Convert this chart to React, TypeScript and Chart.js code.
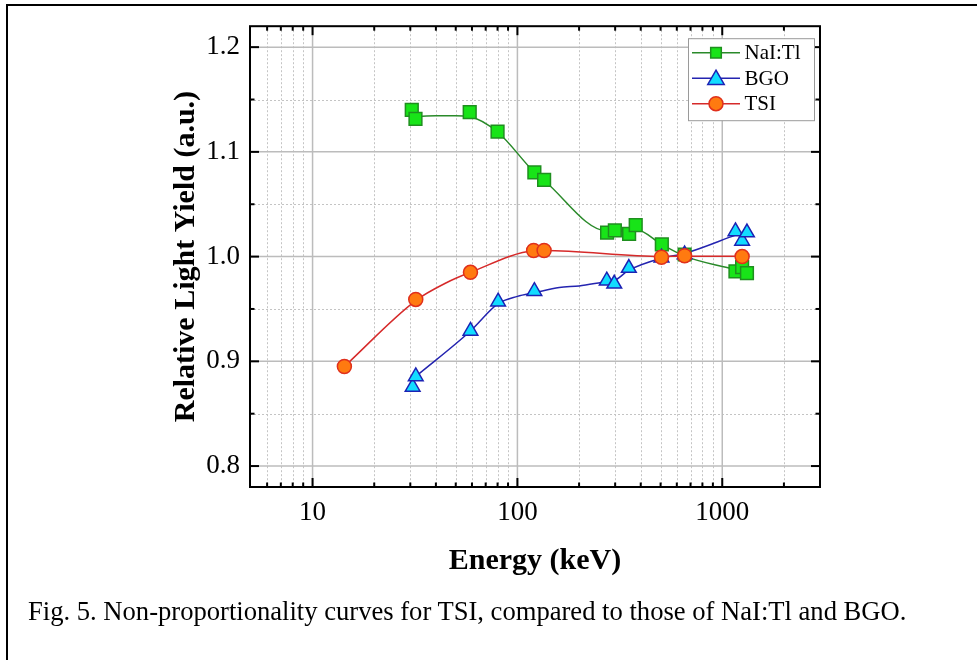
import React, { useEffect, useRef } from 'react';
import { Chart, registerables } from 'chart.js';

Chart.register(...registerables);

const FONT = "'Liberation Serif', 'Times New Roman', Times, serif";

// ---- measured data (Energy keV, relative light yield) ----
const naiEnergy = [30.5, 31.8, 58.5, 80, 121, 135, 274, 299, 351, 378, 507, 655, 1160, 1250, 1320];
const naiYield = [1.140, 1.1316, 1.1379, 1.1193, 1.0805, 1.0732, 1.0228, 1.0250, 1.0216, 1.0301, 1.0117, 1.002, 0.9859, 0.990, 0.9843];

const bgoEnergy = [30.8, 31.9, 59, 80.5, 121, 273, 297, 350, 505, 655, 1160, 1250, 1320];
const bgoYield = [0.8755, 0.8856, 0.929, 0.957, 0.967, 0.977, 0.974, 0.989, 0.999, 1.002, 1.024, 1.015, 1.023];

const tsiEnergy = [14.3, 31.9, 59, 120, 135, 505, 655, 1250];
const tsiYield = [0.8951, 0.9591, 0.985, 1.0058, 1.0058, 0.9994, 1.0008, 1.000];

// ---- smoothed fit curves ----
const naiFitEnergy = [31.8, 40, 50, 58.5, 80, 121, 135, 274, 299, 351, 378, 507, 655, 1000, 1160];
const naiFitYield = [1.1337, 1.1344, 1.1344, 1.1336, 1.119, 1.0805, 1.0727, 1.0245, 1.0245, 1.0248, 1.0258, 1.0115, 1.0005, 0.9905, 0.9878];

const bgoFitEnergy = [31.9, 59, 80.5, 100, 121, 160, 200, 273, 297, 350, 505, 655, 1160];
const bgoFitYield = [0.8856, 0.929, 0.955, 0.962, 0.9655, 0.9705, 0.972, 0.976, 0.977, 0.987, 0.9985, 1.003, 1.0205];

const tsiFitEnergy = [14.3, 31.9, 45, 59, 120, 135, 505, 655, 1250];
const tsiFitYield = [0.8951, 0.958, 0.975, 0.985, 1.0055, 1.0058, 1.0002, 1.0004, 1.0004];

// ---- axes ----
const xMajorTicks = [10, 100, 1000];
const xMinorTicks = [6, 7, 8, 9, 20, 30, 40, 50, 60, 70, 80, 90, 200, 300, 400, 500, 600, 700, 800, 900, 2000];
const yMajorTicks = [0.8, 0.9, 1.0, 1.1, 1.2];
const yMinorTicks = [0.85, 0.95, 1.05, 1.15];

const seriesNames = ['NaI:Tl', 'BGO', 'TSI'];
const xTitle = 'Energy (keV)';
const yTitle = 'Relative Light Yield (a.u.)';
const caption = 'Fig. 5. Non-proportionality curves for TSI, compared to those of NaI:Tl and BGO.';

const NAI = { fill: '#18e418', stroke: '#1f8f1f', line: '#2a8a2a', style: 'rect' };
const BGO = { fill: '#12dcff', stroke: '#1c22b4', line: '#2424b0', style: 'triangle' };
const TSI = { fill: '#ff7a10', stroke: '#e0301c', line: '#d62a2a', style: 'circle' };

function pts(xs: number[], ys: number[]) {
  return xs.map((x, i) => ({ x, y: ys[i] }));
}

function drawMarker(ctx: CanvasRenderingContext2D, style: string, x: number, y: number, r: number, fill: string, stroke: string, lw: number) {
  ctx.beginPath();
  if (style === 'rect') {
    const s = r * Math.SQRT1_2;
    ctx.rect(x - s, y - s, 2 * s, 2 * s);
  } else if (style === 'triangle') {
    const a = (2 * Math.PI) / 3;
    ctx.moveTo(x, y - r);
    ctx.lineTo(x + Math.sin(a) * r, y - Math.cos(a) * r);
    ctx.lineTo(x + Math.sin(2 * a) * r, y - Math.cos(2 * a) * r);
    ctx.closePath();
  } else {
    ctx.arc(x, y, r, 0, Math.PI * 2);
  }
  ctx.fillStyle = fill;
  ctx.fill();
  ctx.lineWidth = lw;
  ctx.strokeStyle = stroke;
  ctx.stroke();
}

const framePlugin = {
  id: 'originFrame',
  beforeDatasetsDraw(chart: any) {
    const { ctx, chartArea: a, scales } = chart;
    const x = scales.x, y = scales.y;
    ctx.save();
    ctx.beginPath();
    ctx.rect(a.left, a.top, a.right - a.left, a.bottom - a.top);
    ctx.clip();
    // minor dotted grid
    ctx.strokeStyle = '#c4c4c4';
    ctx.lineWidth = 1;
    ctx.setLineDash([2, 2]);
    xMinorTicks.forEach((v) => {
      const px = Math.round(x.getPixelForValue(v)) + 0.5;
      ctx.beginPath(); ctx.moveTo(px, a.top); ctx.lineTo(px, a.bottom); ctx.stroke();
    });
    yMinorTicks.forEach((v) => {
      const py = Math.round(y.getPixelForValue(v)) + 0.5;
      ctx.beginPath(); ctx.moveTo(a.left, py); ctx.lineTo(a.right, py); ctx.stroke();
    });
    ctx.setLineDash([]);
    // major solid grid
    ctx.strokeStyle = '#bcbcbc';
    ctx.lineWidth = 1.5;
    xMajorTicks.forEach((v) => {
      const px = x.getPixelForValue(v);
      ctx.beginPath(); ctx.moveTo(px, a.top); ctx.lineTo(px, a.bottom); ctx.stroke();
    });
    yMajorTicks.forEach((v) => {
      const py = y.getPixelForValue(v);
      ctx.beginPath(); ctx.moveTo(a.left, py); ctx.lineTo(a.right, py); ctx.stroke();
    });
    ctx.restore();
  },
  afterDatasetsDraw(chart: any) {
    const { ctx, chartArea: a, scales } = chart;
    const x = scales.x, y = scales.y;
    ctx.save();
    // inward ticks
    ctx.strokeStyle = '#000';
    ctx.lineWidth = 2;
    const tickX = (v: number, len: number) => {
      const px = x.getPixelForValue(v);
      ctx.beginPath(); ctx.moveTo(px, a.bottom); ctx.lineTo(px, a.bottom - len); ctx.stroke();
      ctx.beginPath(); ctx.moveTo(px, a.top); ctx.lineTo(px, a.top + len); ctx.stroke();
    };
    const tickY = (v: number, len: number) => {
      const py = y.getPixelForValue(v);
      ctx.beginPath(); ctx.moveTo(a.left, py); ctx.lineTo(a.left + len, py); ctx.stroke();
      ctx.beginPath(); ctx.moveTo(a.right, py); ctx.lineTo(a.right - len, py); ctx.stroke();
    };
    xMajorTicks.forEach((v) => tickX(v, 9));
    xMinorTicks.forEach((v) => tickX(v, 4.5));
    yMajorTicks.forEach((v) => tickY(v, 9));
    yMinorTicks.forEach((v) => tickY(v, 4.5));
    // axis frame
    ctx.lineWidth = 2;
    ctx.strokeRect(a.left, a.top, a.right - a.left, a.bottom - a.top);

    // legend
    const bx = a.right - 131.5, by = a.top + 12.5, bw = 126, bh = 82;
    ctx.fillStyle = '#fff';
    ctx.fillRect(bx, by, bw, bh);
    ctx.strokeStyle = '#9a9a9a';
    ctx.lineWidth = 1;
    ctx.strokeRect(bx, by, bw, bh);
    const specs = [NAI, BGO, TSI];
    const radii = [7.5, 9.5, 7];
    specs.forEach((s, i) => {
      const ry = by + 14 + i * 25.5;
      ctx.strokeStyle = s.line;
      ctx.lineWidth = 1.5;
      ctx.beginPath(); ctx.moveTo(bx + 3.5, ry); ctx.lineTo(bx + 51.5, ry); ctx.stroke();
      drawMarker(ctx, s.style, bx + 27.5, ry + (s.style === 'triangle' ? 1.5 : 0), radii[i], s.fill, s.stroke, 1.5);
      ctx.fillStyle = '#000';
      ctx.font = `21px ${FONT}`;
      ctx.textAlign = 'left';
      ctx.textBaseline = 'middle';
      ctx.fillText(seriesNames[i], bx + 56, ry + 1);
    });
    ctx.restore();
  },
};

export default function App() {
  const ref = useRef<HTMLCanvasElement | null>(null);

  useEffect(() => {
    if (!ref.current) return;
    const markerDs = (name: string, xs: number[], ys: number[], s: any, r: number) => ({
      label: name,
      data: pts(xs, ys),
      showLine: false,
      pointStyle: s.style,
      pointRadius: r,
      pointHoverRadius: r,
      pointBackgroundColor: s.fill,
      pointBorderColor: s.stroke,
      pointBorderWidth: 1.5,
      backgroundColor: s.fill,
      borderColor: s.stroke,
    });
    const lineDs = (name: string, xs: number[], ys: number[], s: any) => ({
      label: name + ' fit',
      data: pts(xs, ys),
      showLine: true,
      pointRadius: 0,
      pointHoverRadius: 0,
      borderColor: s.line,
      borderWidth: 1.5,
      fill: false,
      cubicInterpolationMode: 'monotone',
    });

    const chart = new Chart(ref.current, {
      type: 'scatter',
      data: {
        datasets: [
          markerDs(seriesNames[2], tsiEnergy, tsiYield, TSI, 7),
          markerDs(seriesNames[1], bgoEnergy, bgoYield, BGO, 8.5),
          markerDs(seriesNames[0], naiEnergy, naiYield, NAI, 9),
          lineDs(seriesNames[2], tsiFitEnergy, tsiFitYield, TSI),
          lineDs(seriesNames[1], bgoFitEnergy, bgoFitYield, BGO),
          lineDs(seriesNames[0], naiFitEnergy, naiFitYield, NAI),
        ] as any,
      },
      options: {
        responsive: false,
        animation: false,
        devicePixelRatio: 1,
        events: [],
        layout: { padding: { left: 0, top: 23, right: 157, bottom: 0 } },
        plugins: {
          legend: { display: false },
          tooltip: { enabled: false },
        },
        scales: {
          x: {
            type: 'logarithmic',
            min: 4.95,
            max: 3000,
            grid: { display: false, drawTicks: false },
            border: { display: false },
            afterBuildTicks: (s: any) => { s.ticks = xMajorTicks.map((v) => ({ value: v })); },
            afterFit: (s: any) => { s.height = 173; },
            ticks: {
              autoSkip: false,
              maxRotation: 0,
              padding: 10,
              color: '#000',
              font: { family: FONT, size: 27 },
              callback: (v: any) => String(v),
            },
            title: {
              display: true,
              text: xTitle,
              color: '#000',
              font: { family: FONT, size: 30, weight: 'bold' },
              padding: { top: 0, bottom: 81 },
            },
          },
          y: {
            type: 'linear',
            min: 0.78,
            max: 1.22,
            grid: { display: false, drawTicks: false },
            border: { display: false },
            afterBuildTicks: (s: any) => { s.ticks = yMajorTicks.map((v) => ({ value: v })); },
            afterFit: (s: any) => { s.width = 250; },
            ticks: {
              padding: 10,
              color: '#000',
              font: { family: FONT, size: 27 },
              callback: (v: any) => Number(v).toFixed(1),
            },
            title: {
              display: true,
              text: yTitle,
              color: '#000',
              font: { family: FONT, size: 30, weight: 'bold' },
              padding: { top: 168, bottom: 0 },
            },
          },
        },
      } as any,
      plugins: [framePlugin],
    });
    return () => chart.destroy();
  }, []);

  return (
    <div style={{ position: 'absolute', left: 0, top: 0, width: 977, height: 660, overflow: 'hidden', background: '#fff' }}>
      <div style={{ position: 'absolute', left: 6, top: 4, width: 2000, height: 2000, border: '2px solid #000', boxSizing: 'border-box' }} />
      <canvas ref={ref} width={977} height={660} style={{ position: 'absolute', left: 0, top: 0, display: 'block' }} />
      <div
        style={{
          position: 'absolute',
          left: 28,
          top: 598,
          fontFamily: FONT,
          fontSize: 26.6,
          lineHeight: '27px',
          color: '#000',
          whiteSpace: 'nowrap',
        }}
      >
        {caption}
      </div>
    </div>
  );
}
